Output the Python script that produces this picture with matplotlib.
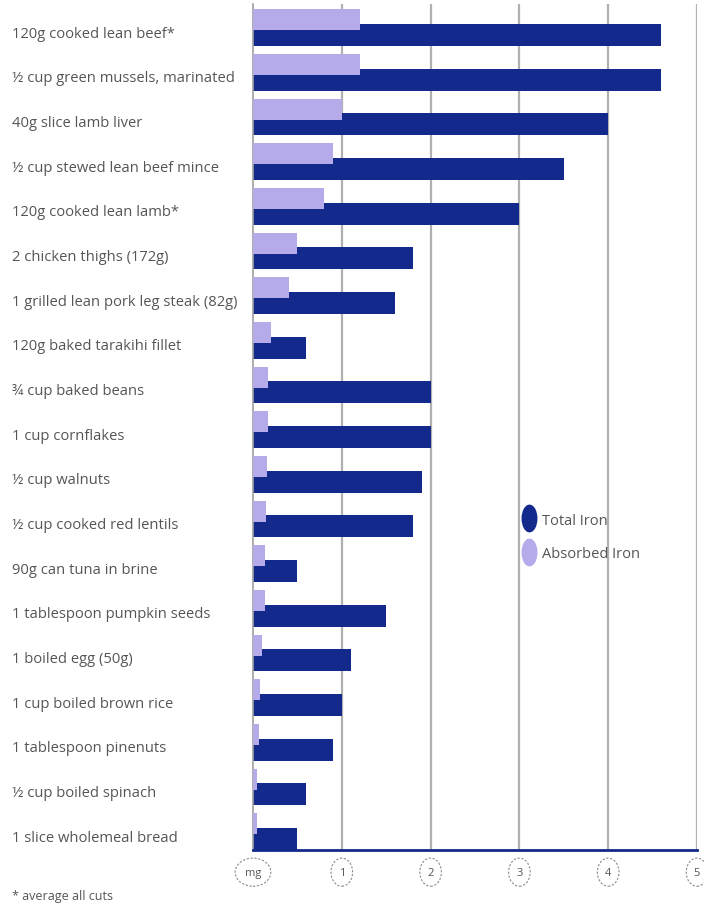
import numpy as np
import matplotlib
matplotlib.use("Agg")
import matplotlib.pyplot as plt
from matplotlib.path import Path
from matplotlib.transforms import Affine2D
from matplotlib.lines import Line2D

# Iron content per serve (mg)
foods = [
    "120g cooked lean beef*",
    "½ cup green mussels, marinated",
    "40g slice lamb liver",
    "½ cup stewed lean beef mince",
    "120g cooked lean lamb*",
    "2 chicken thighs (172g)",
    "1 grilled lean pork leg steak (82g)",
    "120g baked tarakihi fillet",
    "¾ cup baked beans",
    "1 cup cornflakes",
    "½ cup walnuts",
    "½ cup cooked red lentils",
    "90g can tuna in brine",
    "1 tablespoon pumpkin seeds",
    "1 boiled egg (50g)",
    "1 cup boiled brown rice",
    "1 tablespoon pinenuts",
    "½ cup boiled spinach",
    "1 slice wholemeal bread",
]
total_iron = [4.6, 4.6, 4.0, 3.5, 3.0, 1.8, 1.6, 0.6, 2.0, 2.0, 1.9, 1.8,
              0.5, 1.5, 1.1, 1.0, 0.9, 0.6, 0.5]
absorbed_iron = [1.2, 1.2, 1.0, 0.9, 0.8, 0.5, 0.4, 0.2, 0.17, 0.17, 0.16,
                 0.15, 0.13, 0.13, 0.1, 0.08, 0.07, 0.05, 0.04]
x_ticks = [0, 1, 2, 3, 4, 5]
x_ticklabels = ["mg", "1", "2", "3", "4", "5"]

NAVY = "#14298c"
LAVENDER = "#b5aaea"
TEXT = "#555555"
FONT = "Open Sans"

fig = plt.figure(figsize=(7.04, 9.04), dpi=100)
ax = fig.add_axes([253 / 704, 53 / 904, 444 / 704, 846 / 904])

y = np.arange(len(foods))
ax.barh(y + 0.17, total_iron, height=0.49, color=NAVY, zorder=2)
ax.barh(y - 0.17, absorbed_iron, height=0.47, color=LAVENDER, zorder=3)

ax.set_xlim(0, 5)
ax.set_ylim(18.414, -0.526)

# vertical grid
for xv in x_ticks[1:]:
    ax.axvline(xv, color="#b0b0b0", lw=1.6, zorder=1)

for side in ["top", "right"]:
    ax.spines[side].set_visible(False)
ax.spines["left"].set_color("#a0a0a0")
ax.spines["left"].set_linewidth(1.2)
ax.spines["bottom"].set_color(NAVY)
ax.spines["bottom"].set_linewidth(2)

ax.set_yticks(y + 0.08)
ax.set_yticklabels(foods, ha="left", fontsize=10.6, color=TEXT, family=FONT)
ax.tick_params(axis="y", length=0, pad=241 * 0.72)

ax.set_xticks(x_ticks)
ax.set_xticklabels(x_ticklabels, fontsize=8, color=TEXT, family=FONT)
ax.tick_params(axis="x", length=0, pad=12)
for lbl in ax.get_xticklabels():
    lbl.set_bbox(dict(boxstyle="ellipse,pad=0.4", fc="white", ec="#8a8a8a",
                      ls=(0, (2, 1.5)), lw=0.8))
    lbl.set_clip_on(False)

# legend with tall oval markers
oval = Path.unit_circle().transformed(Affine2D().scale(0.55, 1.0))
handles = [
    Line2D([], [], ls="none", marker=oval, markersize=19, color=NAVY, label="Total Iron"),
    Line2D([], [], ls="none", marker=oval, markersize=19, color=LAVENDER, label="Absorbed Iron"),
]
ax.legend(handles=handles, loc="center left", bbox_to_anchor=(0.56, 0.37),
          frameon=False, handletextpad=-0.1, labelspacing=1.3, handlelength=2,
          prop=dict(family=FONT, size=10.5), labelcolor=TEXT)

fig.text(12 / 704, 1 - 897 / 904, "* average all cuts", fontsize=9, color=TEXT,
         family=FONT, va="center")

fig.savefig("out.png", dpi=100)
